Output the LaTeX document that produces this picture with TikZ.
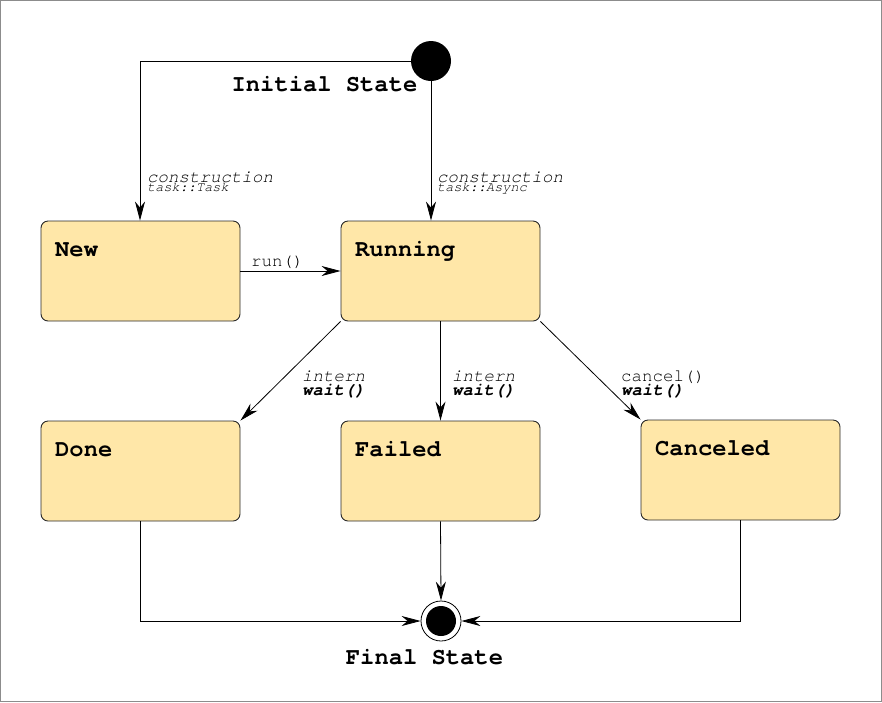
\documentclass[tikz,border=0pt]{standalone}
\usepackage{fontspec}
\setmonofont{TeX Gyre Cursor}
\usetikzlibrary{arrows.meta}
\definecolor{statefill}{RGB}{255,231,168}
\definecolor{stateline}{RGB}{40,40,40}
\definecolor{framegray}{RGB}{140,140,140}
\begin{document}
\begin{tikzpicture}[x=1pt,y=-1pt,
  statebox/.style={draw=stateline, fill=statefill, line width=0.9pt, rounded corners=7pt,
    minimum width=199pt, minimum height=100pt, inner sep=0pt},
  statename/.style={anchor=base west, inner sep=0pt, font=\ttfamily\bfseries\fontsize{23.8}{26}\selectfont},
  lbl/.style={anchor=base west, inner sep=0pt, font=\ttfamily\fontsize{17.5}{19}\selectfont},
  lblit/.style={lbl, font=\ttfamily\itshape\fontsize{17.5}{19}\selectfont},
  lblbi/.style={lbl, font=\ttfamily\bfseries\itshape\fontsize{17.5}{19}\selectfont},
  lblsm/.style={lbl, font=\ttfamily\itshape\fontsize{13.6}{15}\selectfont},
  arr/.style={draw=black, line width=0.8pt, -{Stealth[length=19pt,width=10pt,inset=6pt]}},
]
\useasboundingbox (0,0) rectangle (882,702);
\draw[framegray, line width=0.8pt] (0.5,0.5) rectangle (881.5,701.5);

% states
\node[statebox] (new) at (140.5,271) {};
\node[statebox] (running) at (440.5,271) {};
\node[statebox] (done) at (140.5,471) {};
\node[statebox] (failed) at (440.5,471) {};
\node[statebox] (canceled) at (740.5,470) {};

\node[statename] (newt) at (55,256) {New};
\node[statename] (runt) at (355,256) {Running};
\node[statename] (donet) at (55,456) {Done};
\node[statename] (failt) at (355,456) {Failed};
\node[statename] (cant) at (655,455) {Canceled};

% initial and final
\node[circle, fill=black, minimum size=40pt, inner sep=0pt] (init) at (431,61) {};
\node[statename, anchor=base] (initt) at (324.5,91) {Initial State};
\node[circle, draw=black, fill=white, line width=0.8pt, minimum size=40pt, inner sep=0pt] (final) at (441,621) {};
\node[circle, fill=black, minimum size=30pt, inner sep=0pt] (finalin) at (final.center) {};
\node[statename, anchor=base] (finalt) at (424.5,664) {Final State};

% connectors
\draw[arr] (init.west) -| (new.north -| 140,221);
\draw[arr] (init.south) -- (init.south |- running.north);
\draw[arr] (new.east) -- (running.west);
\draw[arr] (running.south west) -- (done.north east);
\draw[arr] (running.south) -- (failed.north);
\draw[arr] (running.south east) -- (canceled.north west);
\draw[arr] (done.south) |- (final.west);
\draw[arr] (failed.south) -- (final.north);
\draw[arr] (canceled.south) |- (final.east);

% labels
\node[lblit] (c1) at (147,182) {construction};
\node[lblsm] (c1b) at (147,191.5) {task::Task};
\node[lblit] (c2) at (437,182) {construction};
\node[lblsm] (c2b) at (437,191.5) {task::Async};
\node[lbl] (runl) at (251,266) {run()};
\node[lblit] (i1) at (302,381) {intern};
\node[lblbi] (w1) at (302,395.5) {wait()};
\node[lblit] (i2) at (452,381) {intern};
\node[lblbi] (w2) at (452,395.5) {wait()};
\node[lbl] (cl) at (621,381) {cancel()};
\node[lblbi] (w3) at (621,395.5) {wait()};
\end{tikzpicture}
\end{document}
